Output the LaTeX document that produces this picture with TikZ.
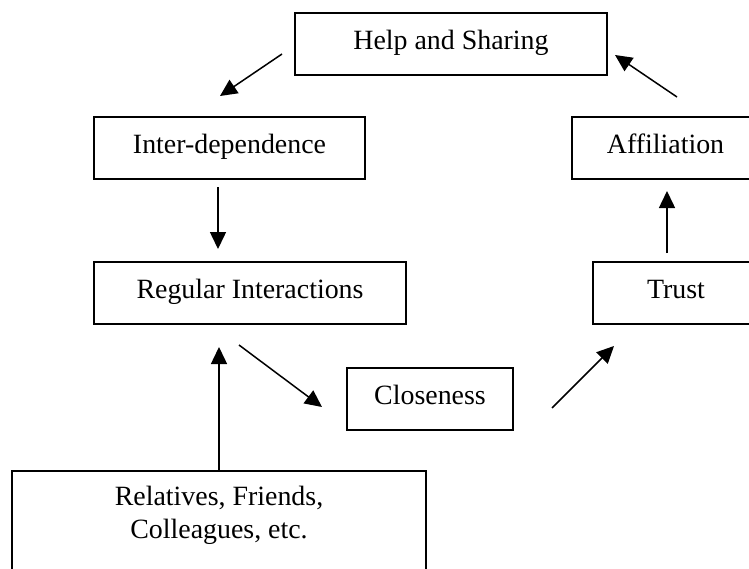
\documentclass[tikz,border=0pt]{standalone}
\usepackage{fontspec}
\setmainfont{Liberation Serif}
\usetikzlibrary{arrows.meta}
\begin{document}
\begin{tikzpicture}[x=1pt,y=-1pt,
  box/.style={draw=black, line width=1.6pt, rectangle, inner sep=0pt, minimum height=62pt,
    text height=16pt, text depth=6pt, font=\fontsize{27.9}{33}\selectfont},
  txt/.style={inner sep=0pt, align=center, font=\fontsize{27.9}{33}\selectfont},
  arr/.style={line width=1.5pt, -{Triangle[length=17pt,width=16pt]}}]
\useasboundingbox (0,0) rectangle (749,568);
\fill[white] (0,0) rectangle (749,568);
\clip (0,0) rectangle (749,568);
% boxes
\node[box, minimum width=312pt] (help)  at (451,44)    {Help and Sharing};
\node[box, minimum width=271pt] (inter) at (229.5,148) {Inter-dependence};
\node[box, minimum width=187pt] (affil) at (665.5,148) {Affiliation};
\node[box, minimum width=312pt] (reg)   at (250,293)   {Regular Interactions};
\node[box, minimum width=166pt] (trust) at (676,293)   {Trust};
\node[box, minimum width=166pt] (close) at (430,399)   {Closeness};
\node[box, minimum width=414pt, minimum height=140pt, anchor=north] (rel) at (219,470) {};
\node[txt] (reltext) at (219,515) {Relatives, Friends,\\Colleagues, etc.};
% arrow end points
\coordinate (a1s) at (282,54);  \coordinate (a1e) at (220,96);
\coordinate (a2s) at (677,97);  \coordinate (a2e) at (615,55);
\coordinate (a3s) at (218,187); \coordinate (a3e) at (218,249);
\coordinate (a4s) at (667,253); \coordinate (a4e) at (667,191);
\coordinate (a5s) at (239,345); \coordinate (a5e) at (322,407);
\coordinate (a6s) at (552,408); \coordinate (a6e) at (614,346);
\coordinate (a7e) at (219,347);
% arrows
\draw[arr] (a1s) -- (a1e);
\draw[arr] (a2s) -- (a2e);
\draw[arr] (a3s) -- (a3e);
\draw[arr] (a4s) -- (a4e);
\draw[arr] (a5s) -- (a5e);
\draw[arr] (a6s) -- (a6e);
\draw[arr] (rel.north) -- (a7e);
\end{tikzpicture}
\end{document}
